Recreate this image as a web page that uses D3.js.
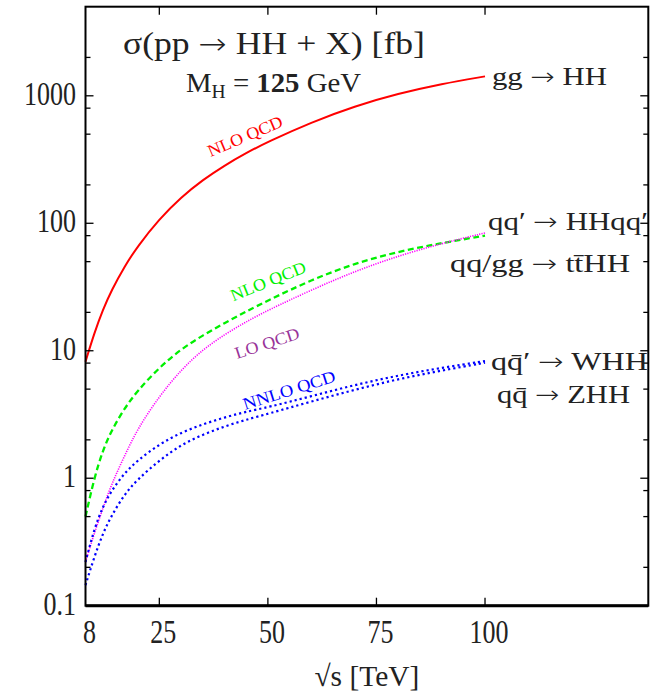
<!DOCTYPE html>
<html lang="en">
<head>
  <meta charset="UTF-8">
  <title>sigma(pp -> HH + X)</title>
  <script src="https://cdn.jsdelivr.net/npm/d3@7"></script>
  <style>
    body { margin: 0; background: #fff; }
    svg  { display: block; font-family: "Liberation Serif", "DejaVu Serif", serif; }
  </style>
</head>
<body>
  <svg id="chart" width="651" height="698"></svg>

  <script>
    // sqrt(s) in TeV and cross sections in fb
    const energies = [8, 10, 12, 14, 17, 20, 25, 30, 35, 40, 45, 50, 60, 70, 80, 90, 100];
    const ggHH     = [8.2, 13.7, 21, 29.8, 46, 66, 108, 160, 219, 284, 356, 436, 620, 830, 1040, 1240, 1420];
    const vbfHH    = [0.5, 1.0, 1.66, 2.37, 3.55, 4.87, 7.4, 10.3, 13.2, 16.5, 20.3, 24.8, 36, 48.5, 60, 70, 80];
    const ttHH     = [0.22, 0.37, 0.58, 0.9, 1.5, 2.45, 4.4, 7.1, 10.2, 13.4, 16.9, 20.8, 30, 42, 55.5, 69.5, 84];
    const WHH      = [0.22, 0.4, 0.6, 0.8, 1.1, 1.38, 1.85, 2.28, 2.65, 3.0, 3.33, 3.6, 4.4, 5.4, 6.4, 7.35, 8.3];
    const ZHH      = [0.145, 0.24, 0.37, 0.51, 0.75, 0.98, 1.38, 1.83, 2.2, 2.55, 2.88, 3.2, 4.0, 4.95, 6.0, 7.0, 8.05];

    const xTicks  = [8, 25, 50, 75, 100];
    const xLabels = ["8", "25", "50", "75", "100"];
    const yTicks  = [0.1, 1, 10, 100, 1000];
    const yLabels = ["0.1", "1", "10", "100", "1000"];
    const yMinor  = [0.2, 0.5, 0.8, 2, 5, 8, 20, 50, 80, 200, 500, 800, 2000];

    const svg = d3.select("#chart");

    const x = d3.scaleLinear().domain([8, 137.6]).range([85.5, 648.3]);
    const y = d3.scaleLog().domain([0.1, 5000]).range([605.7, 6.7]);

    const series = [
      { vals: ggHH,  color: "#ff0000", dash: null,      width: 2 },
      { vals: vbfHH, color: "#00f000", dash: "6,3.5",   width: 2.3 },
      { vals: ttHH,  color: "#ff00ff", dash: "1.2,1.2", width: 1.6 },
      { vals: WHH,   color: "#0000ff", dash: "2.2,3",   width: 2.2 },
      { vals: ZHH,   color: "#0000ff", dash: "2.2,3",   width: 2.2 }
    ];

    const line = d3.line()
      .x(d => x(d[0]))
      .y(d => y(d[1]))
      .curve(d3.curveBasis);

    svg.append("g").selectAll("path")
      .data(series)
      .join("path")
        .attr("d", s => line(energies.map((e, i) => [e, s.vals[i]])))
        .attr("fill", "none")
        .attr("stroke", s => s.color)
        .attr("stroke-width", s => s.width)
        .attr("stroke-dasharray", s => s.dash);

    // frame + ticks (all pointing inward)
    const [x0, x1] = x.range(), [y0, y1] = y.range();
    const axes = svg.append("g").attr("stroke", "#000");

    axes.append("rect")
      .attr("x", x0).attr("y", y1)
      .attr("width", x1 - x0).attr("height", y0 - y1)
      .attr("fill", "none").attr("stroke-width", 2);
    axes.append("line")
      .attr("x1", x0).attr("x2", x1).attr("y1", y0).attr("y2", y0)
      .attr("stroke-width", 3);

    const yt = yTicks.slice(1).map(v => ({ v, len: 8 }))
      .concat(yMinor.map(v => ({ v, len: 5 })));
    yt.forEach(t => {
      axes.append("line").attr("x1", x0).attr("x2", x0 + t.len)
        .attr("y1", y(t.v)).attr("y2", y(t.v)).attr("stroke-width", 1.3);
      axes.append("line").attr("x1", x1).attr("x2", x1 - t.len)
        .attr("y1", y(t.v)).attr("y2", y(t.v)).attr("stroke-width", 1.3);
    });
    xTicks.slice(1).forEach(v => {
      axes.append("line").attr("x1", x(v)).attr("x2", x(v))
        .attr("y1", y0).attr("y2", y0 - 8).attr("stroke-width", 1.3);
      axes.append("line").attr("x1", x(v)).attr("x2", x(v))
        .attr("y1", y1).attr("y2", y1 + 8).attr("stroke-width", 1.3);
    });

    // text helper: arrows get a longer, thin glyph from DejaVu Sans
    function addText(x, y, str, size, opts = {}) {
      const t = svg.append("text")
        .attr("transform", `translate(${x},${y}) ` + (opts.rot ? `rotate(${opts.rot})` : `scale(1,${opts.sy || 1})`))
        .attr("font-size", size)
        .attr("fill", opts.color || "#222")
        .attr("text-anchor", opts.anchor || "start");
      str.split("\u2192").forEach((part, i) => {
        if (i) t.append("tspan")
          .attr("font-family", "DejaVu Sans").attr("font-weight", 200)
          .attr("font-size", size * 0.95).text("\u2192");
        t.append("tspan").text(part);
      });
      if (opts.len) t.attr("textLength", opts.len).attr("lengthAdjust", "spacingAndGlyphs");
      if (opts.rot) t.attr("dy", "0.35em");
      return t;
    }

    // tick labels
    yTicks.forEach((v, i) => addText(76, y(v) + 9, yLabels[i], 26, { anchor: "end", sy: 1.3 }));
    xTicks.forEach((v, i) => addText(x(v) + 4, 643, xLabels[i], 26, { anchor: "middle", sy: 1.3 }));
    addText((x0 + x1) / 2, 686, "\u221As [TeV]", 27, { anchor: "middle", sy: 1.1, len: 105 });

    // title
    addText(123, 54, "\u03C3(pp \u2192 HH + X) [fb]", 31, { len: 302 });
    const mh = addText(186, 92, "", 25, { sy: 1.12, len: 175 });
    mh.append("tspan").text("M");
    mh.append("tspan").attr("font-size", 17).attr("dy", 5).text("H");
    mh.append("tspan").attr("dy", -5).text(" = ");
    mh.append("tspan").attr("font-weight", "bold").text("125");
    mh.append("tspan").text(" GeV");

    // process labels
    addText(492, 85,  "gg \u2192 HH", 26, { len: 115 });
    addText(488, 230, "qq\u2032 \u2192 HHqq\u2032", 26, { len: 160 });
    addText(450, 272, "qq/gg \u2192 tt\u0304HH", 26, { len: 180 });
    addText(491, 370, "qq\u0304\u2032 \u2192 WHH", 26, { len: 157 });
    addText(497, 403, "qq\u0304 \u2192 ZHH", 26, { len: 133 });

    // order labels along the curves
    addText(245, 136, "NLO QCD",  17, { anchor: "middle", rot: -23, len: 80, color: "#ff0000" });
    addText(268, 281, "NLO QCD",  17, { anchor: "middle", rot: -22, len: 80, color: "#00f000" });
    addText(267, 343, "LO QCD",   17, { anchor: "middle", rot: -18, len: 67, color: "#993399" });
    addText(289, 390, "NNLO QCD", 17, { anchor: "middle", rot: -17.5, len: 96, color: "#0000ff" });
  </script>
</body>
</html>
